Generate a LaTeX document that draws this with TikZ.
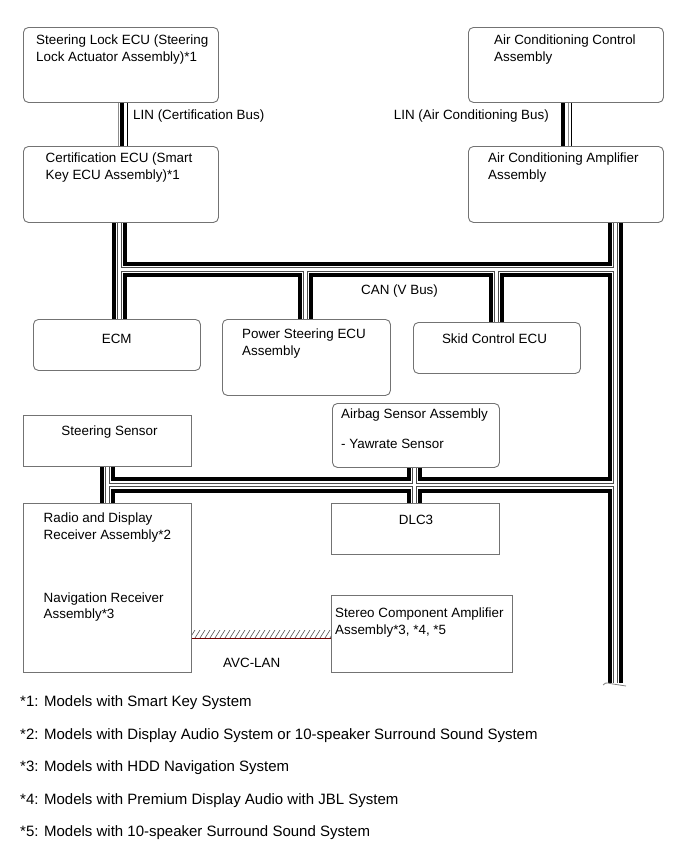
\documentclass[tikz,border=0pt]{standalone}
\usepackage{fontspec}
\setmainfont{Liberation Sans}
\begin{document}
\begin{tikzpicture}[x=1pt,y=-1pt,
  box/.style={draw=black!55, line width=0.9pt, anchor=north west, inner sep=0pt},
  rbox/.style={box, rounded corners=5pt},
  txt/.style={inner sep=0pt, align=left, anchor=north west, font=\fontsize{13.4}{16.5}\selectfont},
  foot/.style={inner sep=0pt, anchor=north west, font=\fontsize{15}{17}\selectfont},
  busA/.style={line width=15.5pt, black},
  busB/.style={line width=7.5pt, white},
  busC/.style={line width=4.5pt, black!70},
  busD/.style={line width=2.5pt, white},
]
\useasboundingbox (0,0) rectangle (690,854);

% ---- box nodes (geometry only) ----
\node[rbox, minimum width=195pt, minimum height=75pt] (sl)   at (23,27)  {};
\node[rbox, minimum width=195pt, minimum height=76pt] (cert) at (23,146) {};
\node[rbox, minimum width=195pt, minimum height=75pt] (acc)  at (468,27) {};
\node[rbox, minimum width=195pt, minimum height=76pt] (aca)  at (468,146) {};
\node[rbox, minimum width=167pt, minimum height=51pt] (ecm)  at (33,319) {};
\node[rbox, minimum width=168pt, minimum height=76pt] (ps)   at (222,319) {};
\node[rbox, minimum width=167pt, minimum height=51pt] (skid) at (413,322) {};
\node[box,  minimum width=168pt, minimum height=51pt] (ss)   at (23,415) {};
\node[rbox, minimum width=167pt, minimum height=64pt] (ab)   at (332,403) {};
\node[box,  minimum width=168pt, minimum height=169pt] (rd)  at (23,503) {};
\node[box,  minimum width=168pt, minimum height=51pt] (dlc)  at (331,503) {};
\node[box,  minimum width=181pt, minimum height=77pt] (st)   at (331,595) {};

% ---- bus coordinates ----
\coordinate (xA) at (119.5,0);
\coordinate (xE) at (615.5,0);
\coordinate (xG) at (107.5,0);
\coordinate (xH) at (414.5,0);
\coordinate (jAB) at (119.5,269.5);
\coordinate (jCB) at (305.5,269.5);
\coordinate (jDB) at (496.5,269.5);
\coordinate (jEB) at (615.5,269.5);
\coordinate (jGF) at (107.5,485);
\coordinate (jEF) at (615.5,485);
\coordinate (busend) at (615.5,683);

% ---- CAN bus (layered double line) ----
\foreach \s in {busA,busB,busC,busD}{
  \draw[\s] (cert.south -| xA) -- (ecm.north -| xA);
  \draw[\s] (jAB) -- (jEB);
  \draw[\s] (jCB) -- (ps.north -| jCB);
  \draw[\s] (jDB) -- (skid.north -| jDB);
  \draw[\s] (aca.south -| xE) -- (busend);
  \draw[\s] (jGF) -- (jEF);
  \draw[\s] (ss.south -| xG) -- (rd.north -| xG);
  \draw[\s] (ab.south -| xH) -- (dlc.north -| xH);
}
% cut end of the bus
\coordinate (brkA) at (603,685);
\coordinate (brkB) at (626,686);
\draw[black!50, line width=0.8pt] (brkA) .. controls (606,681) and (610,684) .. (613,684) -- (brkB);

% ---- LIN lines ----
\coordinate (l1a) at (118.5,0);
\coordinate (l1b) at (122,0);
\coordinate (l1c) at (127.7,0);
\draw[black!45, line width=1pt] (sl.south -| l1a) -- (cert.north -| l1a);
\draw[black, line width=4pt] (sl.south -| l1b) -- (cert.north -| l1b);
\draw[black, line width=1pt] (sl.south -| l1c) -- (cert.north -| l1c);
\coordinate (l2a) at (563,0);
\coordinate (l2b) at (568.5,0);
\coordinate (l2c) at (571.7,0);
\draw[black, line width=4pt] (acc.south -| l2a) -- (aca.north -| l2a);
\draw[black!45, line width=1pt] (acc.south -| l2b) -- (aca.north -| l2b);
\draw[black, line width=1pt] (acc.south -| l2c) -- (aca.north -| l2c);

% ---- AVC-LAN hatched connector ----
\coordinate (hbt) at (0,630);
\coordinate (hbb) at (0,638);
\begin{scope}
  \clip (rd.east |- hbt) rectangle (st.west |- hbb);
  \foreach \i in {185,190,...,335}{
    \draw[black!65, line width=0.6pt] (\i,638) -- (\i+5,630);
  }
\end{scope}
\draw[red!45!black, line width=1pt] (rd.east |- hbb) -- (st.west |- hbb);

% ---- texts ----
\node[txt] (tsl) at (36,35) {Steering Lock ECU (Steering\\Lock Actuator Assembly)*1};
\node[txt] (tcert) at (45.5,153) {Certification ECU (Smart\\Key ECU Assembly)*1};
\node[txt] (tacc) at (494,35) {Air Conditioning Control\\Assembly};
\node[txt] (taca) at (488,153) {Air Conditioning Amplifier\\Assembly};
\node[txt, anchor=north] (tecm) at (116.7,334) {ECM};
\node[txt] (tps) at (242,329) {Power Steering ECU\\Assembly};
\node[txt, anchor=north] (tskid) at (494.5,334) {Skid Control ECU};
\node[txt, anchor=north] (tss) at (109.5,426) {Steering Sensor};
\node[txt] (tab) at (341,409) {Airbag Sensor Assembly\\[13.5pt]- Yawrate Sensor};
\node[txt] (trd) at (43.5,513) {Radio and Display\\Receiver Assembly*2\\[46.5pt]Navigation Receiver\\Assembly*3};
\node[txt, anchor=north] (tdlc) at (416,515) {DLC3};
\node[txt] (tst) at (335,608) {Stereo Component Amplifier\\Assembly*3, *4, *5};

\node[txt] (llin1) at (133,110) {LIN (Certification Bus)};
\node[txt, anchor=north east] (llin2) at (549,110) {LIN (Air Conditioning Bus)};
\node[txt] (lcan) at (361,285) {CAN (V Bus)};
\node[txt] (lavc) at (223,658) {AVC-LAN};

\node[foot] (f1) at (20,695) {*1: Models with Smart Key System};
\node[foot] (f2) at (20,728) {*2: Models with Display Audio System or 10-speaker Surround Sound System};
\node[foot] (f3) at (20,760) {*3: Models with HDD Navigation System};
\node[foot] (f4) at (20,793) {*4: Models with Premium Display Audio with JBL System};
\node[foot] (f5) at (20,825) {*5: Models with 10-speaker Surround Sound System};
\end{tikzpicture}
\end{document}
